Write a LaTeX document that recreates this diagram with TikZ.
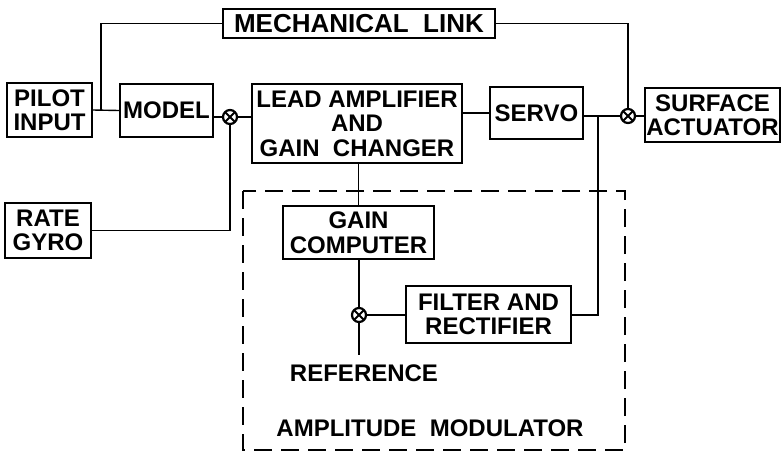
\documentclass[tikz,border=0pt]{standalone}
\usepackage{fontspec}
\setmainfont{Liberation Sans}
\begin{document}
\begin{tikzpicture}[x=1pt,y=-1pt,
  blk/.style={draw, line width=2pt, inner sep=0pt, align=center, font=\bfseries\fontsize{24}{24.5}\selectfont},
  conn/.style={line width=1.4pt},
  sumj/.style={circle, draw, line width=2.2pt, minimum size=14pt, inner sep=0pt,
    path picture={\draw[line width=1.8pt] (path picture bounding box.north west) -- (path picture bounding box.south east)
      (path picture bounding box.north east) -- (path picture bounding box.south west);}},
  lbl/.style={font=\bfseries\fontsize{24}{24.5}\selectfont, inner sep=0pt},
  amdash/.style={line width=2pt, dash pattern=on 18pt off 9pt}]
\useasboundingbox (0,0) rectangle (783,453);
% blocks
\node[blk, minimum width=272pt, minimum height=29pt, font=\bfseries\fontsize{26}{27}\selectfont] (mech) at (359,23.5) {MECHANICAL\ \ LINK};
\node[blk, minimum width=85pt, minimum height=54pt] (pilot) at (49.5,110) {PILOT\\INPUT};
\node[blk, minimum width=93pt, minimum height=53pt] (model) at (166.5,110.5) {MODEL};
\node[blk, minimum width=210pt, minimum height=79pt] (lead) at (357,123.5) {LEAD AMPLIFIER\\AND\\GAIN\ \ CHANGER};
\node[blk, minimum width=93pt, minimum height=52pt] (servo) at (536.5,113) {SERVO};
\node[blk, minimum width=135pt, minimum height=54pt] (surf) at (712.5,115) {SURFACE\\ACTUATOR};
\node[blk, minimum width=86pt, minimum height=55pt] (rate) at (48,230.5) {RATE\\GYRO};
\node[blk, minimum width=151pt, minimum height=53pt] (gain) at (358.5,232.5) {GAIN\\COMPUTER};
\node[blk, minimum width=165pt, minimum height=57pt] (filter) at (488.5,314.5) {FILTER AND\\RECTIFIER};
% junctions
\node[sumj] (j1) at (230,117) {};
\node[sumj] (j2) at (628,116) {};
\node[sumj] (j3) at (359,315) {};
% labels
\node[lbl] (ref) at (364,373) {REFERENCE};
\node[lbl] (amod) at (430,428) {AMPLITUDE\ \ MODULATOR};
% dashed enclosure
\draw[amdash] (243,191) rectangle (625,450);
% coordinates
\coordinate (c1) at (101,110);
\coordinate (br) at (598,116);
\coordinate (refend) at (359,355);
% connectors
\draw[conn] (mech.west) -| (c1);
\draw[conn] (pilot.east) -- (model.west);
\draw[conn] (model.east |- j1) -- (j1);
\draw[conn] (j1) -- (lead.west |- j1);
\draw[conn] (j1.south) |- (rate.east);
\draw[conn] (lead.east |- servo.west) -- (servo.west);
\draw[conn] (servo.east |- j2) -- (j2.west);
\draw[conn] (mech.east) -| (j2.north);
\draw[conn] (j2.east) -- (surf.west |- j2);
\draw[conn] (lead.south -| gain.north) -- (gain.north);
\draw[conn] (gain.south -| j3) -- (j3.north);
\draw[conn] (j3.east) -- (filter.west |- j3);
\draw[conn] (j3.south) -- (refend);
\draw[conn] (filter.east |- j3) -| (br);
\end{tikzpicture}
\end{document}
